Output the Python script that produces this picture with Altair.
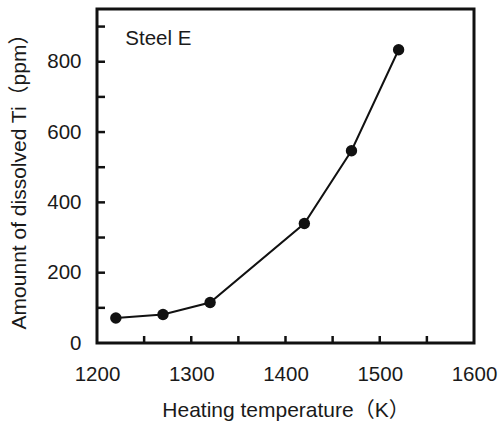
import altair as alt
import pandas as pd

temps = [1220, 1270, 1320, 1420, 1470, 1520]
ti_ppm = [71, 81, 115, 340, 547, 834]

x_label_values = [1200, 1300, 1400, 1500, 1600]
y_label_values = [0, 200, 400, 600, 800]
x_tick_values = [1250, 1300, 1350, 1400, 1450, 1500, 1550]
y_tick_values = [100, 200, 300, 400, 500, 600, 700, 800, 900]

note_text = ["Steel E"]
note_x = [1230]
note_y = [847]

FONT = "Liberation Sans, Arial, Noto Sans CJK JP"
W, H = 377, 334

xs = alt.Scale(domain=[1200, 1600], nice=False, zero=False)
ys = alt.Scale(domain=[0, 950], nice=False, zero=False)

df = pd.DataFrame({"T": temps, "Ti": ti_ppm})

xaxis = alt.Axis(values=x_label_values, format="d", ticks=False, domain=False, grid=False,
                 labelFlush=False, labelOverlap=False,
                 labelFontSize=20.5, labelPadding=21, labelColor="#1a1a1a",
                 title="Heating temperature（K）", titleFontSize=21,
                 titleFontWeight="normal", titlePadding=15, titleColor="#1a1a1a")
yaxis = alt.Axis(values=y_label_values, format="d", ticks=False, domain=False, grid=False,
                 labelFlush=False, labelOverlap=False,
                 labelFontSize=20.5, labelPadding=16, labelColor="#1a1a1a",
                 title="Amounnt of dissolved Ti（ppm）", titleFontSize=21,
                 titleFontWeight="normal", titlePadding=17, titleColor="#1a1a1a")

line = alt.Chart(df).mark_line(color="#111", strokeWidth=2).encode(
    x=alt.X("T:Q", scale=xs, axis=xaxis),
    y=alt.Y("Ti:Q", scale=ys, axis=yaxis),
)
pts = alt.Chart(df).mark_circle(color="#111", opacity=1, size=130).encode(
    x=alt.X("T:Q", scale=xs),
    y=alt.Y("Ti:Q", scale=ys),
)

xt = alt.Chart(pd.DataFrame({"t": x_tick_values})).mark_rule(color="#111", strokeWidth=2.5).encode(
    x=alt.X("t:Q", scale=xs),
    y=alt.value(H),
    y2=alt.value(H - 7),
)
yt = alt.Chart(pd.DataFrame({"t": y_tick_values})).mark_rule(color="#111", strokeWidth=2.5).encode(
    y=alt.Y("t:Q", scale=ys),
    x=alt.value(0),
    x2=alt.value(8),
)

note = alt.Chart(pd.DataFrame({"x": note_x, "y": note_y, "s": note_text})).mark_text(
    align="left", baseline="alphabetic", fontSize=20.5, font=FONT, color="#1a1a1a"
).encode(
    x=alt.X("x:Q", scale=xs),
    y=alt.Y("y:Q", scale=ys),
    text="s:N",
)

chart = alt.layer(xt, yt, line, pts, note).properties(
    width=W, height=H,
    autosize=alt.AutoSizeParams(type="none"),
    padding={"left": 97, "top": 9, "right": 27, "bottom": 86},
    background="white",
).configure_view(
    stroke="#111", strokeWidth=3
).configure_axis(
    labelFont=FONT, titleFont=FONT
)

chart.save("out.html", embed_options={"renderer": "svg", "actions": False})
